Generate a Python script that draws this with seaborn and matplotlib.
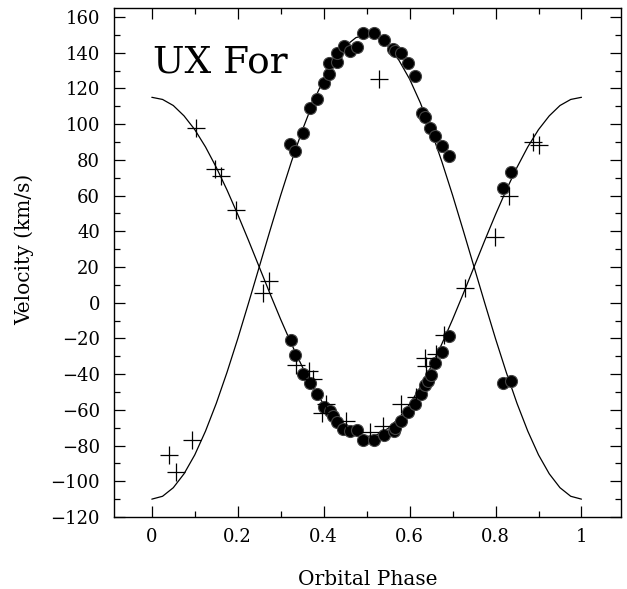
import matplotlib
matplotlib.use("Agg")
import matplotlib.pyplot as plt
import seaborn as sns
import pandas as pd
from matplotlib.ticker import MultipleLocator

sns.set_theme(style="white")
plt.rcParams['font.family'] = ['DejaVu Serif']
plt.rcParams['text.color'] = 'black'
plt.rcParams['axes.labelcolor'] = 'black'
plt.rcParams['xtick.color'] = 'black'
plt.rcParams['ytick.color'] = 'black'

# Fitted model curves (phase grid)
curve_phase = [i * 0.025 for i in range(41)]
curve_a = [115, 113.8, 110.4, 104.6, 96.9, 87.2, 75.8, 63.1, 49.4, 34.9, 20,
           5.1, -9.4, -23.1, -35.8, -47.2, -56.9, -64.6, -70.4, -73.8, -75,
           -73.8, -70.4, -64.6, -56.9, -47.2, -35.8, -23.1, -9.4, 5.1, 20,
           34.9, 49.4, 63.1, 75.8, 87.2, 96.9, 104.6, 110.4, 113.8, 115]
curve_b = [-110, -108.4, -103.6, -95.8, -85.2, -71.9, -56.4, -39.0, -20.2, -0.3, 20,
           40.3, 60.2, 79.0, 96.4, 111.9, 125.2, 135.8, 143.6, 148.4, 150,
           148.4, 143.6, 135.8, 125.2, 111.9, 96.4, 79.0, 60.2, 40.3, 20,
           -0.3, -20.2, -39.0, -56.4, -71.9, -85.2, -95.8, -103.6, -108.4, -110]

# Filled-circle measurements
dot_phase = [0.3225, 0.334, 0.353, 0.369, 0.3845, 0.400, 0.412, 0.413, 0.431, 0.431,
             0.447, 0.4605, 0.4775, 0.491, 0.516, 0.5395, 0.561, 0.566, 0.581, 0.597,
             0.612, 0.6295, 0.635, 0.6465, 0.658, 0.675, 0.691, 0.817, 0.8365,
             0.817, 0.8365,
             0.3233, 0.334, 0.352, 0.369, 0.3845, 0.401, 0.414, 0.422, 0.430, 0.446,
             0.461, 0.477, 0.492, 0.516, 0.540, 0.563, 0.565, 0.581, 0.597, 0.612,
             0.627, 0.635, 0.643, 0.650, 0.658, 0.675, 0.691]
dot_vel = [89, 85, 95, 109, 114, 123, 128, 134, 135, 140,
           144, 141, 143, 151, 151, 147, 142, 141, 140, 134,
           127, 106, 104, 98, 93.5, 88, 82, 64, 73,
           -45, -44,
           -20.7, -29.5, -39.7, -45, -51.3, -58.3, -60.5, -63.3, -67, -70.5,
           -71.7, -71.5, -76.9, -76.9, -73.9, -71.7, -70, -66.1, -61.4, -56.7,
           -51.1, -46.1, -43.7, -40.3, -34, -27.8, -18.8]

# Cross measurements
cross_phase = [0.040, 0.057, 0.094, 0.102, 0.1465, 0.162, 0.195, 0.259, 0.272,
               0.3365, 0.366, 0.374, 0.397, 0.405, 0.451, 0.5085, 0.528, 0.538,
               0.581, 0.615, 0.635, 0.637, 0.662, 0.681, 0.7295, 0.798, 0.831,
               0.887, 0.902]
cross_vel = [-85.3, -95, -76.7, 97.8, 75, 71, 52, 5.4, 11.9,
             -35, -38.5, -43, -62, -57, -66, -72.6, 125.5, -69,
             -56.5, -53, -31, -35.5, -29, -18, 8, 36.5, 60,
             90, 88.5]

x_ticks = [0, 0.2, 0.4, 0.6, 0.8, 1]
x_ticklabels = ["0", "0.2", "0.4", "0.6", "0.8", "1"]
y_ticks = list(range(-120, 161, 20))

fig = plt.figure(figsize=(6.27, 5.89), dpi=100)
ax = fig.add_axes([114/627, 1 - 517/589, (621 - 114)/627, (517 - 8)/589])

curves = pd.DataFrame({"phase": curve_phase, "a": curve_a, "b": curve_b})
sns.lineplot(data=curves, x="phase", y="a", ax=ax, color="black", lw=0.9, sort=False)
sns.lineplot(data=curves, x="phase", y="b", ax=ax, color="black", lw=0.9, sort=False)

dots = pd.DataFrame({"phase": dot_phase, "vel": dot_vel})
sns.scatterplot(data=dots, x="phase", y="vel", ax=ax, color="black", s=75,
                edgecolor="#444444", linewidth=0.8, zorder=3)
crosses = pd.DataFrame({"phase": cross_phase, "vel": cross_vel})
sns.scatterplot(data=crosses, x="phase", y="vel", ax=ax, color="black", marker="+",
                s=170, linewidth=0.9, zorder=4)

ax.set_xlim(-0.088, 1.092)
ax.set_ylim(-120, 165)
ax.set_xticks(x_ticks)
ax.set_xticklabels(x_ticklabels)
ax.set_yticks(y_ticks)
ax.xaxis.set_minor_locator(MultipleLocator(0.1))
ax.yaxis.set_minor_locator(MultipleLocator(10))
ax.tick_params(which="both", direction="in", top=True, right=True,
               bottom=True, left=True, color="black", width=0.9)
ax.tick_params(which="major", length=8, labelsize=13)
ax.tick_params(axis="y", which="major", pad=10)
ax.tick_params(axis="x", which="major", pad=8)
ax.tick_params(which="minor", length=4.5)
for sp in ax.spines.values():
    sp.set_color("black")
    sp.set_linewidth(1.0)

ax.set_xlabel("Orbital Phase", fontsize=14.5)
ax.set_ylabel("Velocity (km/s)", fontsize=14.5)
ax.xaxis.set_label_coords(0.5, -0.104)
ax.yaxis.set_label_coords(-0.158, 0.525)
ax.text(0.003, 129, "UX For", fontsize=27, ha="left", va="baseline")

fig.savefig("out.png", dpi=100)
